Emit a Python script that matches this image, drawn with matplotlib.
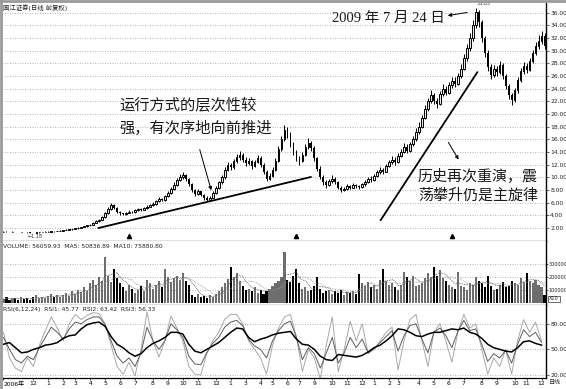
import numpy as np
import pandas as pd
import matplotlib
matplotlib.use("Agg")
import matplotlib.pyplot as plt
from matplotlib.lines import Line2D

plt.rcParams['font.family'] = ['DejaVu Sans', 'Noto Sans CJK SC']

# ---------------- data ----------------
title_text = "国江证券(日线 前复权)"
vol_header = "VOLUME: 56059.93  MA5: 50836.89  MA10: 75880.80"
rsi_header = "RSI(6,12,24)  RSI1: 45.77  RSI2: 63.42  RSI3: 56.33"

first_open = 1.44
closes = [
    1.45, 1.42, 1.40, 1.43, 1.38, 1.35, 1.37, 1.33, 1.30, 1.25,
    1.24, 1.30, 1.34, 1.38, 1.42, 1.45, 1.50, 1.48, 1.55, 1.60,
    1.65, 1.72, 1.80, 1.85, 1.95, 2.05, 2.15, 2.25, 2.40, 2.55,
    2.80, 3.10, 3.30, 3.70, 4.30, 5.00, 5.60, 5.20, 4.60, 4.30,
    4.20, 4.40, 4.60, 4.50, 4.80, 5.00, 4.90, 5.20, 5.40, 5.60,
    5.80, 6.20, 6.60, 6.40, 7.00, 7.50, 8.20, 8.80, 9.60, 10.00,
    10.40, 9.80, 9.00, 8.00, 7.40, 7.80, 7.20, 6.80, 6.50, 6.80,
    7.60, 8.40, 9.20, 10.00, 11.20, 12.00, 11.60, 12.60, 13.20, 13.50,
    12.80, 12.20, 12.60, 11.80, 12.40, 13.00, 12.00, 10.80, 9.80, 10.20,
    11.20, 12.60, 14.50, 16.00, 17.50, 16.80, 15.20, 14.00, 13.00, 12.60,
    13.60, 14.80, 15.40, 14.60, 13.00, 11.40, 10.00, 9.20, 8.80, 9.40,
    9.80, 9.20, 8.40, 8.00, 8.20, 8.60, 8.40, 8.80, 8.60, 8.50,
    8.90, 9.30, 9.80, 9.60, 10.20, 10.80, 11.20, 10.90, 11.80, 12.40,
    12.80, 12.40, 13.40, 14.00, 14.80, 14.20, 15.20, 16.00, 17.20, 18.00,
    19.40, 20.80, 22.00, 23.00, 22.00, 21.60, 23.20, 24.00, 23.40, 24.60,
    25.20, 24.80, 26.00, 27.20, 28.80, 30.40, 32.00, 34.00, 36.20, 34.60,
    32.00, 29.60, 27.40, 26.20, 27.20, 26.60, 27.80, 26.00, 24.40, 23.00,
    22.20, 23.80, 25.40, 26.80, 27.60, 27.00, 28.40, 29.60, 30.80, 31.60,
    32.40, 30.80,
]
highs = [
    1.49, 1.47, 1.44, 1.46, 1.45, 1.40, 1.40, 1.39, 1.35, 1.32,
    1.29, 1.33, 1.38, 1.41, 1.46, 1.49, 1.54, 1.53, 1.58, 1.65,
    1.70, 1.78, 1.85, 1.92, 2.00, 2.12, 2.22, 2.32, 2.48, 2.65,
    2.90, 3.25, 3.45, 3.85, 4.50, 5.30, 5.95, 5.80, 5.30, 4.75,
    4.45, 4.60, 4.80, 4.75, 4.95, 5.20, 5.15, 5.35, 5.60, 5.85,
    6.05, 6.45, 6.90, 6.80, 7.25, 7.80, 8.50, 9.20, 9.90, 10.50,
    10.90, 10.60, 9.90, 9.10, 8.20, 8.20, 7.90, 7.40, 7.00, 7.10,
    7.80, 8.70, 9.50, 10.40, 11.60, 12.50, 12.30, 12.90, 13.70, 14.10,
    13.80, 13.20, 13.00, 12.80, 12.70, 13.50, 13.40, 12.30, 11.10, 10.70,
    11.60, 13.00, 15.00, 16.60, 18.20, 18.00, 17.10, 15.60, 14.30, 13.40,
    14.00, 15.30, 16.20, 15.80, 14.90, 13.20, 11.80, 10.30, 9.60, 9.80,
    10.30, 10.00, 9.40, 8.60, 8.50, 8.90, 8.80, 9.10, 9.00, 8.80,
    9.10, 9.60, 10.10, 10.20, 10.50, 11.10, 11.60, 11.50, 12.10, 12.80,
    13.30, 13.20, 13.80, 14.50, 15.40, 15.20, 15.60, 16.50, 17.80, 18.70,
    19.90, 21.40, 22.60, 23.80, 23.40, 22.50, 23.60, 24.70, 24.50, 25.10,
    25.90, 25.80, 26.50, 27.90, 29.50, 31.00, 32.80, 34.80, 36.80, 36.50,
    34.90, 32.40, 30.20, 27.90, 27.80, 27.60, 28.40, 28.10, 26.30, 24.80,
    23.40, 24.20, 25.90, 27.30, 28.20, 28.10, 28.90, 30.10, 31.40, 32.50,
    33.20, 32.80,
]
lows = [
    1.41, 1.38, 1.36, 1.37, 1.35, 1.31, 1.32, 1.30, 1.26, 1.21,
    1.18, 1.22, 1.28, 1.32, 1.36, 1.40, 1.43, 1.45, 1.46, 1.52,
    1.57, 1.62, 1.69, 1.76, 1.82, 1.91, 2.01, 2.11, 2.20, 2.35,
    2.50, 2.75, 3.00, 3.20, 3.60, 4.20, 4.90, 5.00, 4.40, 4.10,
    4.00, 4.10, 4.30, 4.30, 4.40, 4.65, 4.70, 4.80, 5.05, 5.25,
    5.45, 5.70, 6.10, 6.20, 6.30, 6.85, 7.40, 8.05, 8.70, 9.40,
    9.70, 9.40, 8.60, 7.70, 7.10, 7.20, 7.00, 6.50, 6.20, 6.30,
    6.70, 7.40, 8.20, 9.00, 9.80, 11.00, 11.20, 11.40, 12.30, 12.80,
    12.40, 11.80, 11.90, 11.40, 11.60, 12.20, 11.70, 10.50, 9.40, 9.60,
    10.00, 11.00, 12.40, 14.20, 15.70, 16.20, 14.80, 13.60, 12.60, 12.00,
    12.40, 13.40, 14.50, 14.10, 12.60, 11.00, 9.70, 8.80, 8.40, 8.60,
    9.10, 8.90, 8.10, 7.70, 7.80, 8.00, 8.10, 8.30, 8.40, 8.20,
    8.40, 8.70, 9.10, 9.30, 9.50, 10.00, 10.60, 10.60, 10.80, 11.60,
    12.10, 12.00, 12.20, 13.20, 13.80, 13.90, 14.00, 15.00, 15.80, 16.90,
    17.80, 19.20, 20.50, 21.70, 21.60, 20.90, 21.40, 22.90, 23.00, 23.20,
    24.20, 24.30, 24.60, 25.70, 26.90, 28.40, 30.00, 31.60, 33.60, 33.80,
    31.40, 29.00, 26.80, 25.60, 25.90, 26.00, 26.30, 25.50, 23.90, 22.40,
    21.50, 21.90, 23.40, 25.00, 26.40, 26.50, 26.80, 28.00, 29.30, 30.30,
    31.00, 30.30,
]
volumes_k = [
    30, 45, 25, 40, 35, 20, 50, 30, 40, 25,
    45, 60, 35, 50, 40, 55, 70, 45, 60, 50,
    65, 80, 55, 90, 70, 100, 85, 120, 95, 150,
    180, 140, 200, 170, 350, 210, 160, 260, 190, 150,
    120, 90, 140, 110, 80, 100, 130, 90, 180, 150,
    110, 140, 170, 120, 265, 200, 160, 190, 210, 180,
    230, 170, 140, 60, 50, 70, 45, 55, 40, 60,
    50, 70, 90, 120, 150, 185, 280, 200, 230, 170,
    130, 100, 110, 90, 120, 80, 100, 70, 90, 110,
    130, 150, 170, 200, 390, 180, 160, 210, 260, 150,
    110, 120, 90, 100, 130, 200, 110, 80, 90, 100,
    70, 90, 80, 100, 60, 85, 75, 95, 70, 220,
    150, 130, 160, 120, 140, 110, 180, 260, 170, 140,
    150, 120, 100, 140, 240, 200, 170, 210, 130, 140,
    150, 190, 230, 200, 280, 210, 250, 190, 170, 140,
    120, 110, 240, 130, 120, 100, 150, 140, 200, 170,
    150, 120, 210, 130, 100, 110, 140, 160, 120, 130,
    170, 150, 140, 190, 160, 230, 170, 150, 180, 140,
    120, 60,
]

# RSI lines, one value every second bar
rsi_bars = list(range(0, 182, 2))
rsi1 = [
    70, 40, 28, 24, 40, 30, 55, 72, 88, 75,
    60, 80, 91, 85, 90, 93, 92, 80, 55, 30,
    21, 35, 19, 50, 94, 60, 41, 60, 89, 75,
    60, 30, 21, 20, 45, 60, 70, 85, 91, 91,
    80, 60, 50, 40, 21, 55, 75, 88, 91, 65,
    24, 50, 40, 15, 55, 88, 24, 50, 83, 60,
    80, 45, 50, 60, 70, 76, 26, 60, 85, 91,
    60, 30, 70, 80, 60, 35, 70, 91, 75, 80,
    50, 21, 40, 30, 50, 21, 60, 85, 70, 82,
    60,
]
rsi2 = [
    64, 50, 38, 34, 42, 38, 52, 64, 76, 70,
    62, 74, 82, 80, 85, 88, 88, 79, 60, 42,
    34, 40, 30, 46, 76, 60, 50, 60, 80, 73,
    64, 42, 33, 32, 46, 57, 64, 76, 82, 84,
    78, 62, 54, 50, 40, 60, 72, 80, 83, 64,
    38, 52, 45, 28, 46, 64, 34, 46, 64, 52,
    62, 46, 51, 58, 65, 72, 48, 66, 78, 80,
    62, 46, 70, 75, 66, 52, 71, 84, 72, 74,
    56, 36, 45, 40, 49, 34, 56, 73, 65, 70,
    58,
]
rsi3 = [
    56, 58, 52, 46, 47, 50, 52, 55, 56, 58,
    63, 66, 67, 74, 79, 81, 82, 77, 65, 56,
    52, 46, 42, 45, 52, 57, 60, 64, 70, 70,
    68, 56, 48, 46, 50, 54, 58, 64, 70, 75,
    74, 64, 59, 62, 64, 67, 69, 70, 71, 62,
    56, 55, 50, 42, 38, 37, 44, 43, 42, 41,
    43, 47, 52, 55, 60, 66, 74, 73, 70, 66,
    65, 68, 70, 70, 72, 74, 73, 75, 70, 68,
    63, 56, 52, 50, 48, 47, 52, 59, 60, 57,
    55,
]

price_ticks = [2, 4, 6, 8, 10, 12, 14, 16, 18, 20, 22, 24, 26, 28, 30, 32, 34, 36]
vol_ticks = [100000, 200000, 300000]
vol_tick_labels = ["100000", "200000", "300000"]
rsi_ticks = [20, 50, 80]
rsi_tick_labels = ["20.00", "50.00", "80.00"]

month_tick_bars = [0, 10, 15, 20, 24, 29, 34, 39, 44, 50, 55, 60, 65, 71, 76, 81, 86, 90,
                   95, 99, 104, 110, 115, 120, 124, 129, 132, 139, 144, 149, 154, 160,
                   165, 171, 175, 180]
month_labels = ["2006年", "12", "1", "2", "3", "4", "5", "6", "7", "8", "9", "10", "11", "12",
                "1", "3", "4", "5", "6", "7", "9", "10", "11", "12", "1", "2", "3", "4",
                "5", "6", "7", "8", "9", "10", "11", "12"]

# trend lines drawn by the author (bar index, price)
trend1_bars = [31.8, 102.8]
trend1_prices = [2.0, 10.06]
trend2_bars = [126.2, 158.5]
trend2_prices = [3.26, 26.6]

info_bars = [42, 98, 150]
low_bar = 10
peak_label = "38.85"
low_label = "←1.18"

note1 = "运行方式的层次性较\n强，有次序地向前推进"
note2 = "历史再次重演，震\n荡攀升仍是主旋律"
note3 = "2009 年 7 月 24 日"

# ---------------- figure ----------------
W, H = 566, 389
fig = plt.figure(figsize=(W / 100, H / 100), dpi=100)
fig.patch.set_facecolor("white")


def fx(px):
    return px / W


def fy(py):
    return 1 - py / H


L, R = 2, 546
ax1 = fig.add_axes([fx(L), fy(241), fx(R) - fx(L), fy(3) - fy(241)])
ax2 = fig.add_axes([fx(L), fy(305), fx(R) - fx(L), fy(241) - fy(305)], sharex=ax1)
ax3 = fig.add_axes([fx(L), fy(378), fx(R) - fx(L), fy(305) - fy(378)], sharex=ax1)

c = np.array(closes)
hi = np.array(highs)
lo = np.array(lows)
o = np.r_[first_open, c[:-1]]
n = len(c)
idx = np.arange(n)
up = c >= o

# --- price candles ---
ax1.vlines(idx, lo, hi, color="black", lw=0.7, zorder=2)
ax1.bar(idx[up], (c - o)[up], bottom=o[up], width=0.55, facecolor="#e8e8e8",
        edgecolor="black", lw=0.7, zorder=3)
ax1.bar(idx[~up], (o - c)[~up], bottom=c[~up], width=0.6, color="black", zorder=3)
ax1.plot(trend1_bars, trend1_prices, color="black", lw=1.3, zorder=4)
ax1.plot(trend2_bars, trend2_prices, color="black", lw=1.3, zorder=4)
ax1.plot(info_bars, [0.7] * len(info_bars), ls="none", marker="^", ms=3, color="black")
ax1.text(low_bar - 2, lo[low_bar] - 0.45, low_label, fontsize=3.5, color="#333", va="center")
pk = int(np.argmax(hi))
ax1.text(pk + 0.3, hi[pk] + 0.3, peak_label, fontsize=3.5, color="#333", va="bottom")

ax1.set_xlim(-0.5, n - 0.5)
ax1.set_ylim(-0.05, 37.55)
ax1.set_yticks(price_ticks)
ax1.set_yticklabels(["%.2f" % v for v in price_ticks])
ax1.grid(axis="y", ls=(0, (1, 2)), color="#999999", lw=0.6)
ax1.set_axisbelow(True)

# --- volume ---
v = np.array(volumes_k) * 1000.0
ax2.bar(idx[up], v[up], width=0.7, color="#6e6e6e", lw=0)
ax2.bar(idx[~up], v[~up], width=0.7, color="black", lw=0)
vs = pd.Series(v)
ax2.plot(idx, vs.rolling(5, min_periods=1).mean(), color="#555", lw=0.6, ls=(0, (1, 1)))
ax2.plot(idx, vs.rolling(10, min_periods=1).mean(), color="#999", lw=0.6, ls=(0, (1, 1)))
ax2.set_ylim(-15000, 476000)
ax2.set_yticks(vol_ticks)
ax2.set_yticklabels(vol_tick_labels)
ax2.grid(axis="y", ls=(0, (1, 2)), color="#999999", lw=0.6)
ax2.set_axisbelow(True)

# --- RSI ---
ax3.plot(rsi_bars, rsi1, color="#a8a8a8", lw=0.7)
ax3.plot(rsi_bars, rsi2, color="#5e5e5e", lw=0.7)
ax3.plot(rsi_bars, rsi3, color="black", lw=1.1)
ax3.set_ylim(16.5, 102)
ax3.set_yticks(rsi_ticks)
ax3.set_yticklabels(rsi_tick_labels)
ax3.grid(axis="y", ls=(0, (1, 2)), color="#999999", lw=0.6)
ax3.set_axisbelow(True)

ax3.set_xticks(month_tick_bars)
ax3.set_xticklabels(month_labels)
ax3.get_xticklabels()[0].set_ha("left")

for ax in (ax1, ax2, ax3):
    ax.yaxis.tick_right()
    ax.tick_params(axis="y", labelsize=4.3, length=2, width=0.5, pad=1, colors="#222")
    ax.spines["left"].set_visible(False)
    ax.spines["top"].set_visible(False)
    ax.spines["right"].set_linewidth(1.0)
    ax.spines["bottom"].set_linewidth(0.9)
ax2.tick_params(axis="y", labelsize=3.5, length=1.5, pad=0.5)
for ax in (ax1, ax2):
    ax.tick_params(axis="x", bottom=False, labelbottom=False)
ax3.tick_params(axis="x", labelsize=4.3, length=1.5, width=0.5, pad=1)

# headers
fig.text(fx(3), fy(8), title_text, fontsize=4.6, va="center", color="#222")
fig.text(fx(3), fy(246), vol_header, fontsize=4.3, va="center", color="#222")
fig.text(fx(3), fy(309), rsi_header, fontsize=4.3, va="center", color="#222")
fig.text(fx(549), fy(299), "X10", fontsize=3.6, va="center", color="#222",
         bbox=dict(boxstyle="square,pad=0.15", fc="white", ec="black", lw=0.4))
fig.text(fx(549), fy(383), "日线", fontsize=4.3, va="center", color="#222")

# notes
cjk = ["Noto Sans CJK SC"]
fig.text(fx(119), fy(117), note1, fontsize=11, family=cjk, va="center", ha="left",
         linespacing=1.45, color="#1a1a1a")
fig.text(fx(418), fy(185), note2, fontsize=10.8, family=cjk, va="center", ha="left",
         linespacing=1.45, color="#1a1a1a")
fig.text(fx(332), fy(18), note3, fontsize=10.5, family=["Liberation Serif", "Noto Sans CJK SC"],
         va="center", ha="left", color="#1a1a1a")

arrow = dict(arrowstyle="-|>", color="black", lw=0.7, mutation_scale=5)
fig.add_artist(plt.Annotation("", xy=(fx(212), fy(193)), xytext=(fx(199), fy(147)),
                              xycoords="figure fraction", arrowprops=arrow))
fig.add_artist(plt.Annotation("", xy=(fx(460), fy(162)), xytext=(fx(447), fy(140)),
                              xycoords="figure fraction", arrowprops=arrow))
fig.add_artist(plt.Annotation("", xy=(fx(445), fy(16)), xytext=(fx(470), fy(12)),
                              xycoords="figure fraction", arrowprops=arrow))

# outer frame lines (top & left)
fig.add_artist(Line2D([0, 1], [fy(1), fy(1)], transform=fig.transFigure, color="#9a9a9a", lw=2))
fig.add_artist(Line2D([fx(1), fx(1)], [0, 1], transform=fig.transFigure, color="#9a9a9a", lw=2))

fig.savefig("out.png", dpi=100)
